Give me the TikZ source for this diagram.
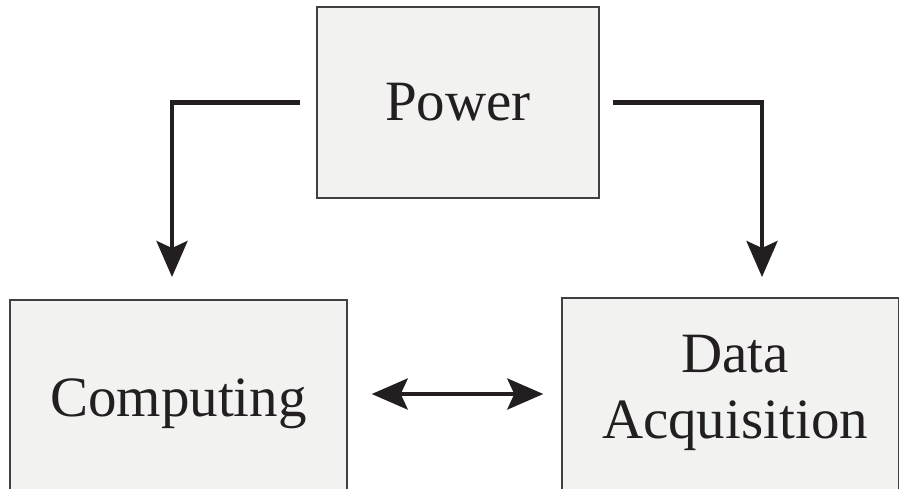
\documentclass[tikz,border=0pt]{standalone}
\usepackage{fontspec}
\setmainfont{Liberation Serif}
\usetikzlibrary{arrows.meta}
\definecolor{boxfill}{HTML}{F2F2F1}
\definecolor{boxline}{HTML}{404040}
\definecolor{ink}{HTML}{231F20}
\begin{document}
\begin{tikzpicture}[x=1pt,y=-1pt,
  box/.style={draw=boxline, line width=1.4pt, fill=boxfill, inner sep=0pt},
  lbl/.style={font=\fontsize{57}{66}\selectfont, text=ink, align=center, inner sep=0pt},
  arr/.style={draw=ink, line width=4.2pt, -{Stealth[length=36pt, width=31pt, inset=7pt]}},
  arrb/.style={draw=ink, line width=4.2pt, {Stealth[length=36pt, width=31pt, inset=7pt]}-{Stealth[length=36pt, width=31pt, inset=7pt]}}]
\useasboundingbox (0,0) rectangle (899,488);
\node[box, lbl, minimum width=282pt, minimum height=191pt] (pw) at (458,102.5) {Power};
\node[box, lbl, minimum width=337pt, minimum height=207pt] (comp) at (178.5,403.5) {Computing};
\node[box, minimum width=337pt, minimum height=210pt] (da) at (730.5,403) {};
\node[lbl] (datxt) at (735,393) {Data\\Acquisition};
\coordinate (lt) at (172,277);
\coordinate (rt) at (762,277);
\draw[arr] ([xshift=-16pt]pw.west) -| (lt);
\draw[arr] ([xshift=13pt]pw.east) -| (rt);
\draw[arrb] ([xshift=24pt, yshift=9.5pt]comp.east) -- ([xshift=-18pt, yshift=9pt]da.west);
\end{tikzpicture}
\end{document}
